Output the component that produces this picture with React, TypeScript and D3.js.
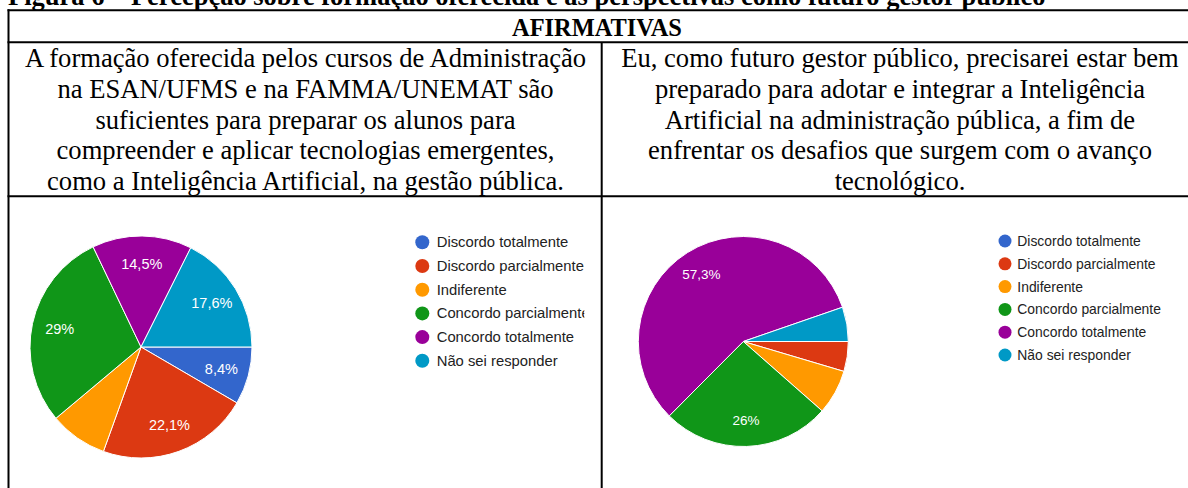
import * as d3 from 'd3';

const categories = ['Discordo totalmente', 'Discordo parcialmente', 'Indiferente', 'Concordo parcialmente', 'Concordo totalmente', 'Não sei responder'];
const colors = ['#3366cc', '#dc3912', '#ff9900', '#109618', '#990099', '#0099c6'];
const formacaoValues = [8.4, 22.1, 8.4, 29, 14.5, 17.6];
const formacaoLabels = ['8,4%', '22,1%', '', '29%', '14,5%', '17,6%'];
const gestorValues = [0, 4.6, 6.9, 26, 57.3, 5.3];
const gestorLabels = ['', '', '', '26%', '57,3%', ''];

const leftText = [
    'A formação oferecida pelos cursos de Administração',
    'na ESAN/UFMS e na FAMMA/UNEMAT são',
    'suficientes para preparar os alunos para',
    'compreender e aplicar tecnologias emergentes,',
    'como a Inteligência Artificial, na gestão pública.'
];
const rightText = [
    'Eu, como futuro gestor público, precisarei estar bem',
    'preparado para adotar e integrar a Inteligência',
    'Artificial na administração pública, a fim de',
    'enfrentar os desafios que surgem com o avanço',
    'tecnológico.'
];

const serif = '"Liberation Serif", "Times New Roman", serif';
const sans = '"Liberation Sans", Arial, sans-serif';

const Pie = (props: any) => {
    const { cx, cy, r, values, labels, fontSize } = props;
    const pie = d3.pie<number>().sort(null).value((d) => d)
        .startAngle(Math.PI / 2).endAngle(Math.PI / 2 + 2 * Math.PI);
    const arc: any = d3.arc().innerRadius(0).outerRadius(r);
    const labelArc: any = d3.arc().innerRadius(r * 0.75).outerRadius(r * 0.75);
    const arcs = pie(values);
    return (
        <g transform={'translate(' + cx + ',' + cy + ')'}>
            {arcs.map((a: any, i: number) => a.value > 0 ? (
                <path key={i} d={arc(a)} fill={colors[i]} stroke="#fff" strokeWidth={1} />
            ) : null)}
            {arcs.map((a: any, i: number) => {
                if (!labels[i]) return null;
                const [x, y] = labelArc.centroid(a);
                return (
                    <text key={'l' + i} x={x} y={y} textAnchor="middle" dominantBaseline="central"
                        fill="#fff" fontFamily={sans} fontSize={fontSize}>{labels[i]}</text>
                );
            })}
        </g>
    );
};

const Legend = (props: any) => {
    const { x, y, step, r, fontSize, gap, clipId } = props;
    return (
        <g transform={'translate(' + x + ',' + y + ')'} clipPath={clipId ? 'url(#' + clipId + ')' : undefined}>
            {categories.map((c, i) => (
                <g key={c} transform={'translate(0,' + i * step + ')'}>
                    <circle cx={0} cy={0} r={r} fill={colors[i]} />
                    <text x={gap} y={0} dominantBaseline="central" fontFamily={sans} fontSize={fontSize} fill="#222">{c}</text>
                </g>
            ))}
        </g>
    );
};

const App = () => {
    const W = 1188;
    const H = 488;
    const lineY = [67, 98, 128.5, 159, 190];
    return (
        <svg width={W} height={H} style={{ position: 'absolute', left: 0, top: 0, background: '#fff' }}>
            <defs>
                <clipPath id="legclip">
                    <rect x={-20} y={-20} width={182} height={170} />
                </clipPath>
            </defs>
            <rect width={W} height={H} fill="#fff" />
            <text x={8} y={5} fontFamily={serif} fontWeight="bold" fontSize={26.5}>
                Figura 6 – Percepção sobre formação oferecida e as perspectivas como futuro gestor público
            </text>

            {/* table lines */}
            <line x1={8.5} x2={8.5} y1={9.3} y2={H} stroke="#000" strokeWidth={2} />
            <line x1={601.7} x2={601.7} y1={42.3} y2={H} stroke="#000" strokeWidth={2} />
            <line x1={7.5} x2={W} y1={10.3} y2={10.3} stroke="#000" strokeWidth={2} />
            <line x1={7.5} x2={W} y1={42.3} y2={42.3} stroke="#000" strokeWidth={2} />
            <line x1={7.5} x2={W} y1={196.3} y2={196.3} stroke="#000" strokeWidth={2} />

            <text x={597} y={36} textAnchor="middle" fontFamily={serif} fontWeight="bold" fontSize={24.4}>AFIRMATIVAS</text>
            {leftText.map((t, i) => (
                <text key={'a' + i} x={305.5} y={lineY[i]} textAnchor="middle" fontFamily={serif} fontSize={26.6}>{t}</text>
            ))}
            {rightText.map((t, i) => (
                <text key={'b' + i} x={900} y={lineY[i]} textAnchor="middle" fontFamily={serif} fontSize={26.6}>{t}</text>
            ))}

            <Pie cx={141} cy={347} r={111} values={formacaoValues} labels={formacaoLabels} fontSize={14.5} />
            <Legend x={422.3} y={242.3} step={23.7} r={7} fontSize={14.8} gap={14.4} clipId="legclip" />

            <Pie cx={743.3} cy={341.5} r={105} values={gestorValues} labels={gestorLabels} fontSize={13.5} />
            <Legend x={1005} y={241} step={22.8} r={6.5} fontSize={13.9} gap={12.3} />
        </svg>
    );
};

export default App;
